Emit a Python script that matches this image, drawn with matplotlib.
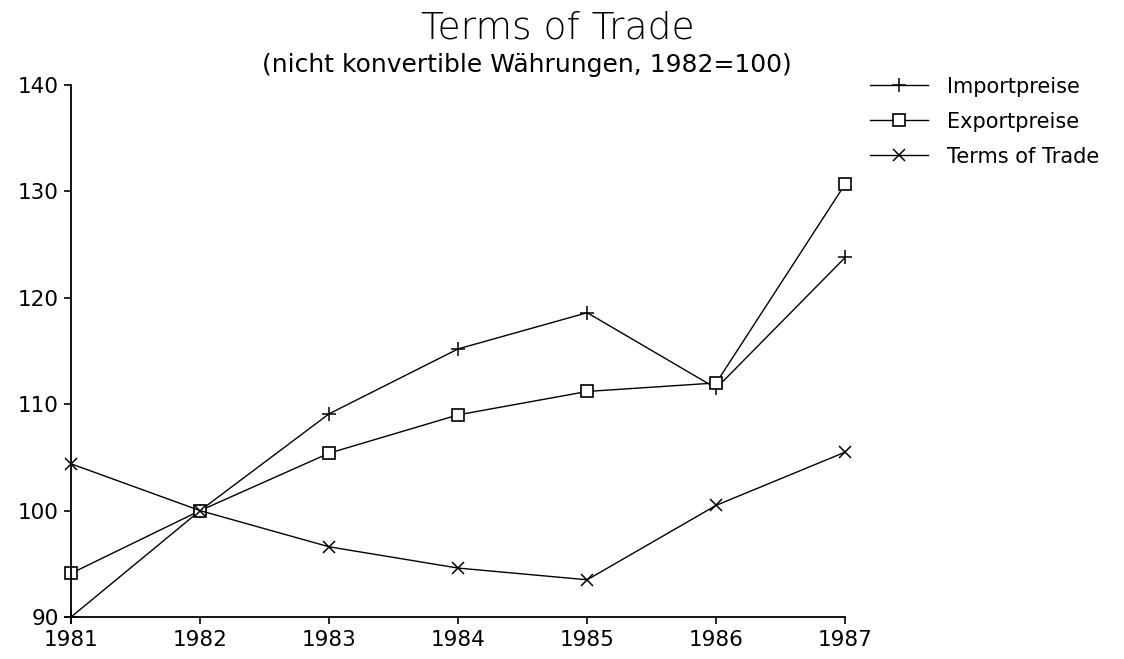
import matplotlib
matplotlib.use("Agg")
import matplotlib.pyplot as plt

years = [1981, 1982, 1983, 1984, 1985, 1986, 1987]
importpreise = [90.0, 100.0, 109.1, 115.2, 118.6, 111.5, 123.8]
exportpreise = [94.1, 100.0, 105.4, 109.0, 111.2, 112.0, 130.7]
terms_of_trade = [104.4, 100.0, 96.6, 94.6, 93.5, 100.5, 105.5]

y_ticks = [90, 100, 110, 120, 130, 140]

title = "Terms of Trade"
subtitle = "(nicht konvertible Währungen, 1982=100)"
labels = ["Importpreise", "Exportpreise", "Terms of Trade"]

plt.rcParams['font.family'] = ['DejaVu Sans']

fig = plt.figure(figsize=(11.24, 6.59), dpi=100)
ax = fig.add_axes([0.0632, 0.0637, 0.6888, 0.8073])

lw = 1.0
ax.plot(years, importpreise, color='black', lw=lw, marker='+', ms=10, mew=1.1, label=labels[0])
ax.plot(years, exportpreise, color='black', lw=lw, marker='s', ms=8, mfc='white', mew=1.2, label=labels[1])
ax.plot(years, terms_of_trade, color='black', lw=lw, marker='x', ms=8, mew=1.1, label=labels[2])

ax.set_xlim(1981, 1987)
ax.set_ylim(90, 140)
ax.set_xticks(years)
ax.set_yticks(y_ticks)
ax.spines['top'].set_visible(False)
ax.spines['right'].set_visible(False)
ax.spines['left'].set_linewidth(1.3)
ax.spines['bottom'].set_linewidth(1.3)
ax.tick_params(axis='both', direction='out', length=5, width=1.2, labelsize=15.5, pad=4)
for sp in ax.spines.values():
    sp.set_clip_on(False)
for line in ax.lines:
    line.set_clip_on(False)

fig.text(0.496, 0.958, title, ha='center', va='center', fontsize=27, fontweight='light')
fig.text(0.469, 0.902, subtitle, ha='center', va='center', fontsize=18)

fig.legend(loc='upper left', bbox_to_anchor=(0.757, 0.912), frameon=False,
           fontsize=15, handlelength=2.8, labelspacing=0.72, handletextpad=0.9)

fig.savefig("out.png", dpi=100)
